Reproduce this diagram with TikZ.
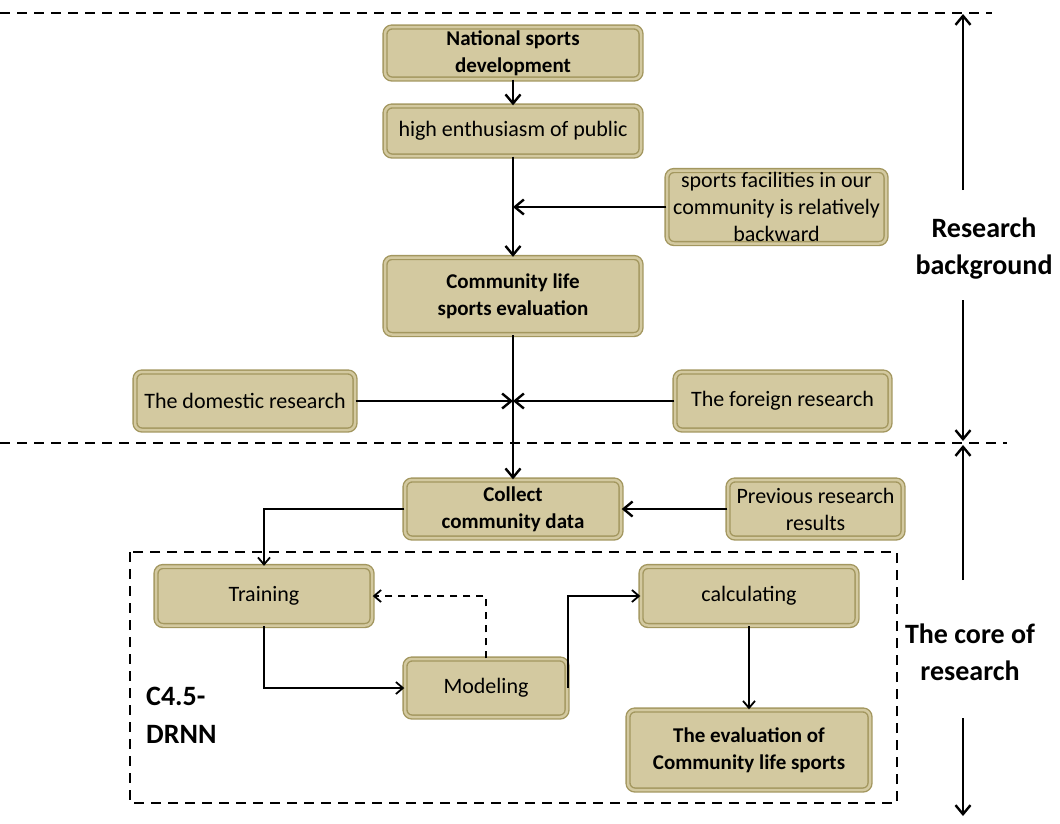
\documentclass[tikz,border=0pt]{standalone}
\usepackage{fontspec}
\setmainfont{Carlito}
\usetikzlibrary{arrows.meta}
\definecolor{boxfill}{HTML}{D3C9A0}
\definecolor{boxedge}{HTML}{A3975F}
\begin{document}
\begin{tikzpicture}[x=1pt,y=-1pt,
 box/.style={draw=boxedge, double=boxfill, double distance=2.5pt, line width=1.4pt, fill=boxfill, rounded corners=7pt, inner sep=0pt, align=center, font=\fontsize{22}{27}\selectfont},
 bbox/.style={box, font=\fontsize{21}{27}\selectfont\bfseries},
 thickarrow/.style={line width=2.8pt, -{Straight Barb[length=9pt,width=15pt,line width=2.4pt]}},
 thinarrow/.style={line width=1.8pt, -{Straight Barb[length=7pt,width=12pt,line width=1.8pt]}},
 sep/.style={line width=2pt, dash pattern=on 10pt off 7pt},
 side/.style={font=\fontsize{28}{37}\selectfont\bfseries, align=center},
]
\useasboundingbox (0,0) rectangle (1060,823);
% separators
\draw[sep] (0,13) -- (992,13);
\draw[sep] (0,443) -- (1007,443);
\draw[sep] (130,552) rectangle (897,803);
% boxes
\node[bbox, minimum width=256, minimum height=52] (nat) at (513,53) {National sports\\development};
\node[box, minimum width=256, minimum height=50] (high) at (513,131) {high enthusiasm of public};
\node[box, minimum width=219, minimum height=73] (fac) at (776.5,207) {sports facilities in our\\community is relatively\\backward};
\node[bbox, minimum width=256, minimum height=77] (comm) at (513,296) {Community life\\sports evaluation};
\node[box, minimum width=220, minimum height=58] (dom) at (245,401) {The domestic research};
\node[box, minimum width=215, minimum height=58] (for) at (782.5,401) {The foreign research};
\node[bbox, minimum width=216, minimum height=58] (coll) at (513,509) {Collect\\community data};
\node[box, minimum width=175, minimum height=58] (prev) at (815.5,509) {Previous research\\results};
\node[box, minimum width=216, minimum height=59] (train) at (264,596) {Training};
\node[box, minimum width=162, minimum height=58] (model) at (486,688) {Modeling};
\node[box, minimum width=216, minimum height=59] (calc) at (749,596) {calculating};
\node[bbox, minimum width=242, minimum height=80] (eval) at (749,750) {The evaluation of\\Community life sports};
\node[font=\fontsize{28}{38}\selectfont\bfseries, align=left, anchor=base west, inner sep=0pt] (c45) at (146,743) {C4.5-\\DRNN};
% connectors
\draw[thickarrow] (nat.south) -- (high.north);
\draw[thickarrow] (high.south) -- (comm.north);
\draw[thickarrow] (fac.west) -- (fac.west -| high.south);
\draw[thickarrow] (comm.south) -- (coll.north);
\draw[thickarrow] (dom.east) -- (dom.east -| comm.south);
\draw[thickarrow] (for.west) -- (for.west -| comm.south);
\draw[thickarrow] (prev.west) -- (coll.east);
\draw[thinarrow] (coll.west) -| (train.north);
\draw[thinarrow] (train.south) |- (model.west);
\draw[thinarrow, dash pattern=on 7pt off 6pt] (model.north) |- (train.east);
\draw[thinarrow] (model.east) |- (calc.west);
\draw[thinarrow] (calc.south) -- (eval.north);
% side labels
\node[side] (rb) at (984,249) {Research\\background};
\node[side] (cr) at (970,652) {The core of\\research};
\coordinate (rbtop) at (963,14);
\coordinate (rbup) at (963,190);
\coordinate (rbdn) at (963,300);
\coordinate (rbbot) at (963,441);
\coordinate (crtop) at (963,445);
\coordinate (crup) at (963,580);
\coordinate (crdn) at (963,718);
\coordinate (crbot) at (963,816);
\draw[thickarrow] (rbup) -- (rbtop);
\draw[thickarrow] (rbdn) -- (rbbot);
\draw[thickarrow] (crup) -- (crtop);
\draw[thickarrow] (crdn) -- (crbot);
\end{tikzpicture}
\end{document}
